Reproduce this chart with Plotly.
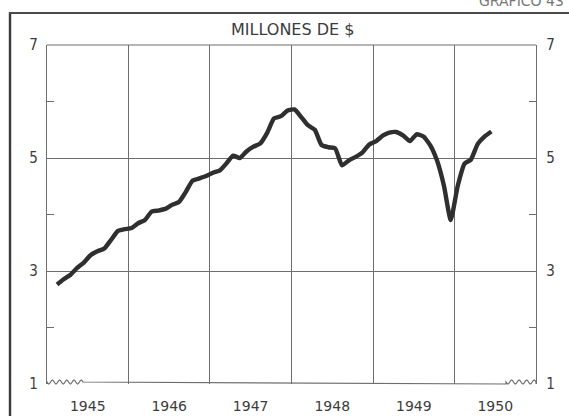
import numpy as np
import pandas as pd
import plotly.graph_objects as go

# ---- data (monthly, Feb 1945 - Jun 1950), millions of $
start_month = "1945-02-01"
values = [
    2.76, 2.85, 2.93, 3.05, 3.15, 3.28, 3.35, 3.40, 3.55, 3.71, 3.74,           # 1945 Feb-Dec
    3.76, 3.85, 3.90, 4.05, 4.07, 4.10, 4.17, 4.22, 4.40, 4.60, 4.64, 4.68,     # 1946
    4.74, 4.78, 4.90, 5.04, 5.00, 5.12, 5.20, 5.26, 5.45, 5.70, 5.74, 5.84,     # 1947
    5.86, 5.72, 5.58, 5.50, 5.23, 5.19, 5.17, 4.87, 4.96, 5.02, 5.10, 5.24,     # 1948
    5.30, 5.40, 5.45, 5.46, 5.40, 5.30, 5.42, 5.38, 5.22, 4.95, 4.50, 3.90,     # 1949
    4.50, 4.90, 4.97, 5.25, 5.38, 5.47,                                         # 1950 Jan-Jun
]
y_tick_vals = [1, 3, 5, 7]
y_tick_text = ["1", "3", "5", "7"]
y_minor_vals = [2, 4, 6]
title_text = "MILLONES DE $"
corner_text = "GRAFICO 43"

dates = pd.date_range(start_month, periods=len(values), freq="MS") + pd.Timedelta(days=14)

W, H = 569, 416
L, R, T, B = 47, 536, 45, 384  # plot area in px


def px(x):
    return (x - L) / (R - L)


def py(y):
    return (B - y) / (B - T)


ink = "#2f2f2f"
grid = "#6e6e6e"
txt = "#3c3c3c"

fig = go.Figure()
fig.add_trace(go.Scatter(
    x=dates, y=values, mode="lines",
    line=dict(color=ink, width=4.4, shape="spline", smoothing=0.5),
    hoverinfo="skip", showlegend=False,
))
fig.add_trace(go.Scatter(
    x=[dates[0]], y=[values[0]], yaxis="y2", mode="markers",
    marker=dict(opacity=0), hoverinfo="skip", showlegend=False,
))

yfont = dict(family="Liberation Sans Narrow, DejaVu Sans Condensed, Arial Narrow, sans-serif", size=15, color=txt)

fig.update_layout(
    width=W, height=H,
    margin=dict(l=L, r=W - R, t=T, b=H - B, pad=0, autoexpand=False),
    paper_bgcolor="white", plot_bgcolor="white",
    xaxis=dict(
        type="date", range=["1945-01-01", "1951-01-01"],
        dtick="M12", tick0="1945-01-01", tickformat="%Y", ticklabelmode="period",
        showgrid=True, gridcolor=grid, gridwidth=1,
        showline=False, zeroline=False, automargin=False,
        ticks="outside", ticklen=9, tickcolor="rgba(0,0,0,0)",
        tickfont=dict(family="DejaVu Sans, Verdana, sans-serif", size=14, color=txt),
        fixedrange=True,
    ),
    yaxis=dict(
        range=[1, 7], tickvals=y_tick_vals, ticktext=y_tick_text,
        showgrid=True, gridcolor=grid, gridwidth=1,
        showline=True, linecolor=grid, linewidth=1.2, automargin=False,
        zeroline=False, ticks="", ticklabelstandoff=5,
        tickfont=yfont,
        minor=dict(tickvals=y_minor_vals, ticks="inside", ticklen=7, tickcolor=grid, showgrid=False),
        fixedrange=True,
    ),
    yaxis2=dict(
        range=[1, 7], overlaying="y", side="right", matches="y",
        tickvals=y_tick_vals, ticktext=y_tick_text,
        showgrid=False, showline=True, linecolor=grid, linewidth=1.2, automargin=False,
        zeroline=False, ticks="", ticklabelstandoff=6,
        tickfont=yfont,
        minor=dict(tickvals=y_minor_vals, ticks="inside", ticklen=7, tickcolor=grid, showgrid=False),
        fixedrange=True,
    ),
)

shapes = []
# top border of plot
shapes.append(dict(type="line", xref="paper", yref="paper", x0=0, x1=1, y0=1, y1=1,
                   line=dict(color=grid, width=1.2)))


# bottom border with wavy "break" segments at both ends
def wave(x0, x1, y, amp=2.0, n=5):
    pts = []
    steps = 40
    for i in range(steps + 1):
        x = x0 + (x1 - x0) * i / steps
        yy = y + amp * np.sin(2 * np.pi * n * i / steps)
        pts.append((x, yy))
    return pts


pts = wave(L, 83, B - 2, 2.0, 5) + [(506, B)] + wave(506, R, B - 2, 2.0, 4)
pts = [(L, B)] + pts + [(R, B)]
path = "M " + " L ".join(f"{px(x):.5f},{py(y):.5f}" for x, y in pts)
shapes.append(dict(type="path", xref="paper", yref="paper", path=path,
                   line=dict(color=grid, width=1.2)))
# outer page frame
shapes.append(dict(type="line", xref="paper", yref="paper", x0=px(10), x1=px(10), y0=py(12), y1=py(420),
                   line=dict(color="#3a3a3a", width=2.4)))
shapes.append(dict(type="line", xref="paper", yref="paper", x0=px(9), x1=px(575), y0=py(13), y1=py(13),
                   line=dict(color="#4a4a4a", width=2)))
fig.update_layout(shapes=shapes)

fig.add_annotation(text=title_text, xref="paper", yref="paper", x=px(292), y=py(30),
                   showarrow=False, xanchor="center", yanchor="middle",
                   font=dict(family="DejaVu Sans, Verdana, sans-serif", size=16, color=txt))
fig.add_annotation(text=corner_text, xref="paper", yref="paper", x=px(566), y=py(1),
                   showarrow=False, xanchor="right", yanchor="middle",
                   font=dict(family="DejaVu Sans, Verdana, sans-serif", size=14, color="#777"))

fig.write_html(
    "out.html",
    config={"displayModeBar": False, "staticPlot": True},
    post_script="document.body.style.margin='0';document.body.style.overflow='hidden';",
)
